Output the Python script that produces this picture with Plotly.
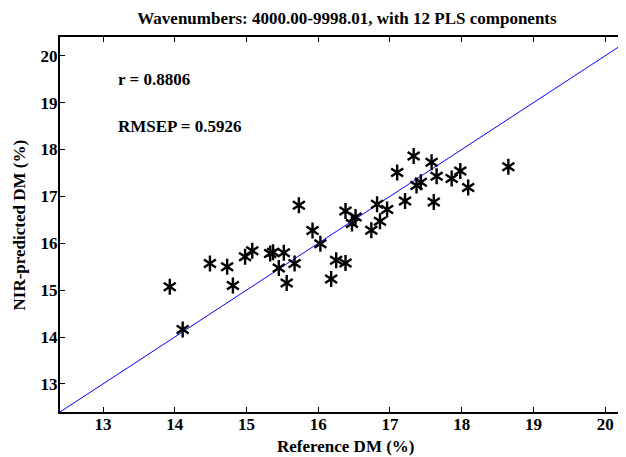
import plotly.graph_objects as go

reference_dm = [13.93, 14.11, 14.49, 14.73, 14.81, 14.98, 15.08, 15.33, 15.37, 15.52,
                15.45, 15.56, 15.67, 15.73, 15.92, 16.03, 16.25, 16.38, 16.18, 16.38,
                16.52, 16.47, 16.74, 16.86, 16.82, 16.96, 17.10, 17.21, 17.33, 17.37,
                17.43, 17.58, 17.65, 17.61, 17.86, 17.98, 18.09, 18.65]
predicted_dm = [15.07, 14.16, 15.57, 15.50, 15.10, 15.71, 15.84, 15.78, 15.81, 15.80,
                15.47, 15.15, 15.57, 16.81, 16.27, 15.99, 15.64, 15.58, 15.24, 16.69,
                16.56, 16.42, 16.28, 16.47, 16.83, 16.72, 17.51, 16.90, 17.86, 17.23,
                17.30, 17.73, 17.43, 16.88, 17.38, 17.54, 17.19, 17.63]
ideal_line = [12.4, 20.4]
tick_vals = [13, 14, 15, 16, 17, 18, 19, 20]
title_text = "Wavenumbers: 4000.00-9998.01, with 12 PLS components"
stats_text = ["r = 0.8806", "RMSEP = 0.5926"]

FONT = "Liberation Serif"

fig = go.Figure()
fig.add_trace(go.Scatter(x=ideal_line, y=ideal_line, mode="lines",
                         line=dict(color="#0000ff", width=1), showlegend=False,
                         hoverinfo="skip"))
for sym in ["y-up-open", "y-down-open"]:
    fig.add_trace(go.Scatter(x=reference_dm, y=predicted_dm, mode="markers",
                             marker=dict(symbol=sym, size=10, color="black",
                                         line=dict(color="black", width=2.4)),
                             showlegend=False))

axis_common = dict(
    showgrid=False, zeroline=False, showline=True, linecolor="black", linewidth=2,
    ticks="inside", ticklen=5, tickwidth=1, tickcolor="black", automargin=False,
    tickvals=tick_vals, tickfont=dict(family=FONT, size=17, color="black", weight="bold"),
)
fig.update_xaxes(range=[12.4, 20.29], mirror="ticks", ticklabelstandoff=-4, **axis_common)
fig.update_yaxes(range=[12.4, 20.4], mirror=False, ticklabelstandoff=-3, **axis_common)

stat_font = dict(family=FONT, size=17, color="black", weight="bold")
fig.add_annotation(x=13.18, y=19.49, text=stats_text[0], showarrow=False,
                   xanchor="left", yanchor="middle", font=stat_font)
fig.add_annotation(x=13.18, y=18.50, text=stats_text[1], showarrow=False,
                   xanchor="left", yanchor="middle", font=stat_font)
fig.add_annotation(xref="paper", yref="paper", x=0.505, y=-0.093,
                   text="Reference DM (%)", showarrow=False,
                   xanchor="center", yanchor="middle", font=stat_font)
fig.add_annotation(xref="paper", yref="paper", x=-0.0707, y=0.5,
                   text="NIR-predicted DM (%)", showarrow=False, textangle=-90,
                   xanchor="center", yanchor="middle", font=stat_font)

# page has an 8px body margin, so the figure is sized to fill the remaining window
fig.update_layout(
    width=618, height=449,
    margin=dict(l=52, r=0, t=29, b=45),
    paper_bgcolor="white", plot_bgcolor="white",
    title=dict(text=title_text, x=0.5485, xanchor="center", y=0.978, yanchor="middle",
               xref="container", yref="container",
               font=dict(family=FONT, size=17, color="black", weight="bold")),
)

fig.write_html("out.html")
